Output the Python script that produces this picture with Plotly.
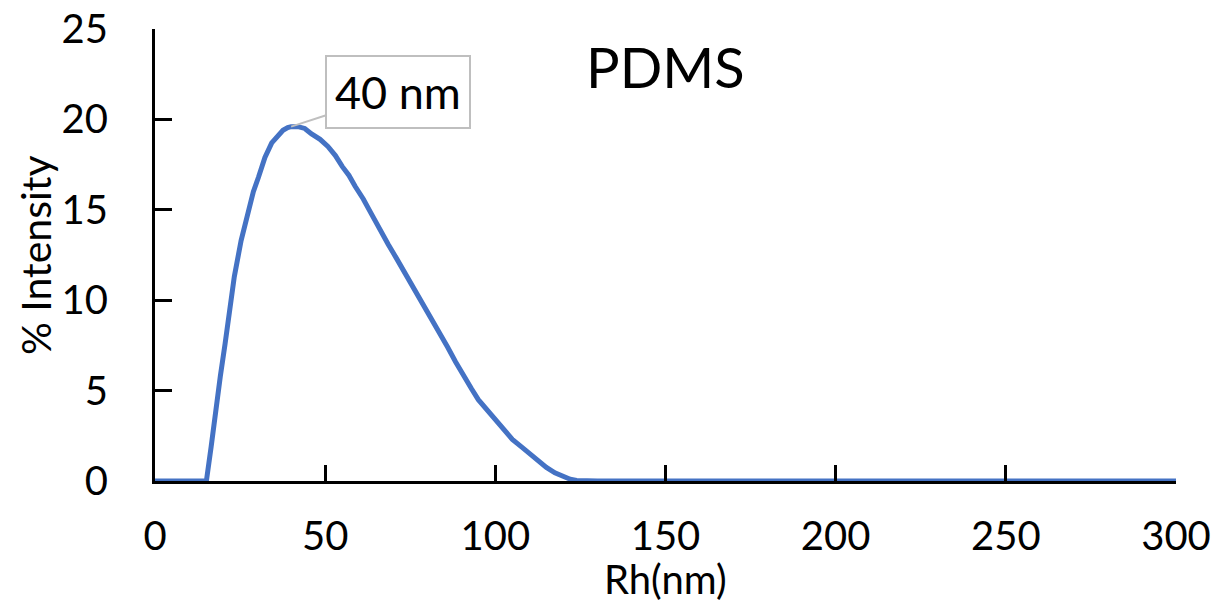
import plotly.graph_objects as go

# Hydrodynamic radius distribution (intensity weighted) for PDMS
rh_nm = [0, 5, 10, 15.1, 16.5, 17.8, 19.2, 20.6, 22.0, 23.3, 25.3, 27.4,
         28.9, 30.4, 32.3, 34.3, 36.0, 37.6, 39.0, 40, 42, 44, 46, 48.5,
         50.8, 53, 55, 57, 58.8, 61.2, 63.5, 66, 68.5, 71.0, 73.5, 76, 78.5,
         80.8, 83.5, 86, 88.3, 90.6, 93, 95, 97.7, 100.4, 102.7, 105, 107.6,
         110.2, 112.6, 115, 117.5, 120, 122, 123.9, 126, 130, 150, 200, 250,
         300]
intensity = [0, 0, 0, 0, 1.9, 3.9, 5.8, 7.6, 9.5, 11.3, 13.3, 15.0, 16.0,
             16.8, 17.9, 18.7, 19.1, 19.4, 19.55, 19.6, 19.6, 19.5, 19.2,
             18.9, 18.5, 18.0, 17.4, 16.9, 16.3, 15.6, 14.8, 13.9, 13.1,
             12.3, 11.5, 10.7, 9.9, 9.1, 8.2, 7.4, 6.6, 5.8, 5.1, 4.5, 3.9,
             3.3, 2.8, 2.3, 1.9, 1.5, 1.1, 0.75, 0.45, 0.25, 0.1, 0.03, 0,
             0, 0, 0, 0, 0]

peak_x = 40
peak_y = 19.6
peak_label = "40 nm"
sample_name = "PDMS"
x_title = "Rh(nm)"
y_title = "% Intensity"

x_ticks = [0, 50, 100, 150, 200, 250, 300]
y_ticks = [0, 5, 10, 15, 20, 25]

FONT = "Lato, Open Sans, sans-serif"

fig = go.Figure()
fig.add_trace(go.Scatter(
    x=rh_nm, y=intensity, mode="lines",
    line=dict(color="#4472C4", width=5),
    hoverinfo="x+y", showlegend=False,
))

# Peak callout
fig.add_annotation(
    x=peak_x, y=peak_y, xref="x", yref="y",
    text=peak_label, showarrow=True, arrowhead=0, arrowwidth=2,
    arrowcolor="#BFBFBF", ax=107, ay=-35,
    bordercolor="#BFBFBF", borderwidth=2, borderpad=8, bgcolor="white",
    font=dict(family=FONT, size=45, color="black"),
)

# Sample name
fig.add_annotation(
    x=0.5, y=0.916, xref="paper", yref="paper",
    xanchor="center", yanchor="middle",
    text=sample_name, showarrow=False,
    font=dict(family=FONT, size=56, color="black"),
)

# Axis titles
fig.add_annotation(
    x=0.5, y=-0.216, xref="paper", yref="paper",
    xanchor="center", yanchor="middle",
    text=x_title, showarrow=False,
    font=dict(family=FONT, size=40, color="black"),
)
fig.add_annotation(
    x=-0.1175, y=0.5, xref="paper", yref="paper",
    xanchor="center", yanchor="middle", textangle=-90,
    text=y_title, showarrow=False,
    font=dict(family=FONT, size=41, color="black"),
)

axis_common = dict(
    showline=True, linecolor="black", linewidth=3,
    ticks="inside", tickcolor="black", tickwidth=3,
    showgrid=False, zeroline=False, mirror=False, automargin=False,
    tickfont=dict(family=FONT, size=40, color="black"),
)

fig.update_xaxes(range=[0, 300], tickvals=x_ticks, ticklen=16,
                 ticklabelstandoff=18, **axis_common)
fig.update_yaxes(range=[0, 25], tickvals=y_ticks, ticklen=17,
                 ticklabelstandoff=36, **axis_common)

fig.update_layout(
    width=1221, height=605,
    margin=dict(l=155, r=45, t=29, b=124),
    plot_bgcolor="white", paper_bgcolor="white",
)

fig.write_html("out.html")
